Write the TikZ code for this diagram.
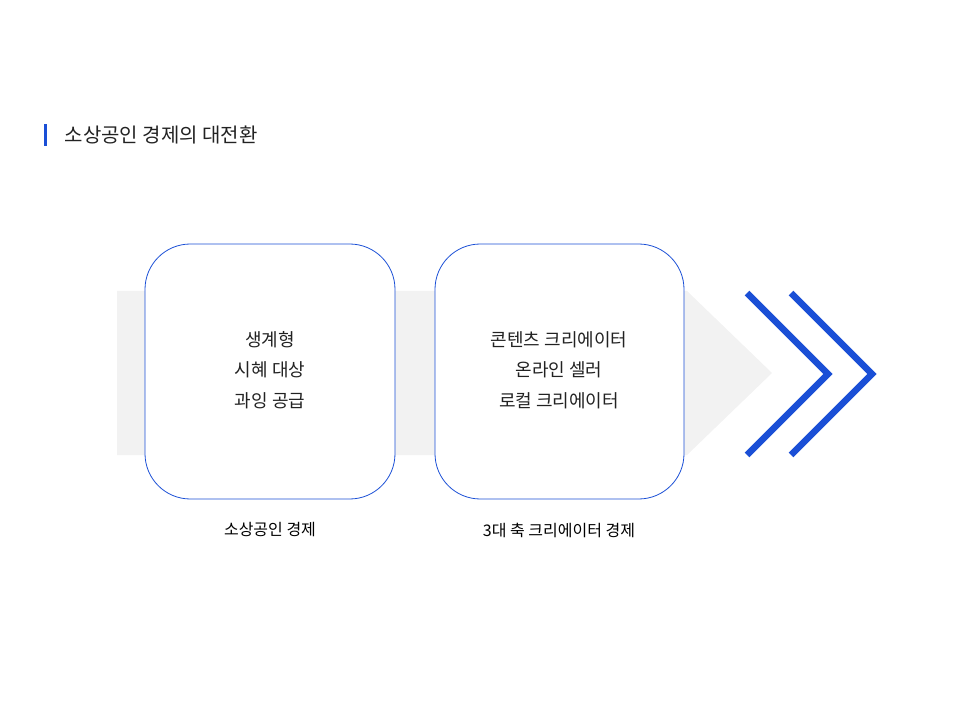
\documentclass[tikz,border=0pt]{standalone}
\usepackage{fontspec}
\setmainfont{Noto Sans CJK KR}
\definecolor{bl}{HTML}{1A4FD6}
\definecolor{txt}{HTML}{222222}
\begin{document}
\begin{tikzpicture}[x=0.75pt,y=-0.75pt,
  card/.style={draw=bl,line width=0.6pt,fill=white,rounded corners=34pt},
  cardtxt/.style={align=center,font=\fontsize{13.5pt}{23pt}\selectfont,text=txt},
  caption/.style={font=\fontsize{12pt}{14pt}\selectfont,text=black},
  chev/.style={draw=bl,line width=5pt}]
\useasboundingbox (0,0) rectangle (960,720);
\fill[bl] (44,124) rectangle (47,146);
\node[anchor=west,font=\fontsize{15pt}{18pt}\selectfont,text=txt] (title) at (60,135) {소상공인 경제의 대전환};
\fill[black!5] (117,291) -- (687,291) -- (772,373) -- (687,455) -- (117,455) -- cycle;
\draw[card] (145,244) rectangle (395,499);
\draw[card] (435,244) rectangle (684,499);
\node[cardtxt] (t1) at (270,370) {생계형\\시혜 대상\\과잉 공급};
\node[cardtxt] (t2) at (559,370) {콘텐츠 크리에이터\\온라인 셀러\\로컬 크리에이터};
\node[caption] (c1) at (270,530) {소상공인 경제};
\node[caption] (c2) at (559,530) {3대 축 크리에이터 경제};
\draw[chev] (747,293) -- (828,374) -- (747,455);
\draw[chev] (791,293) -- (872,374) -- (791,455);
\end{tikzpicture}
\end{document}
